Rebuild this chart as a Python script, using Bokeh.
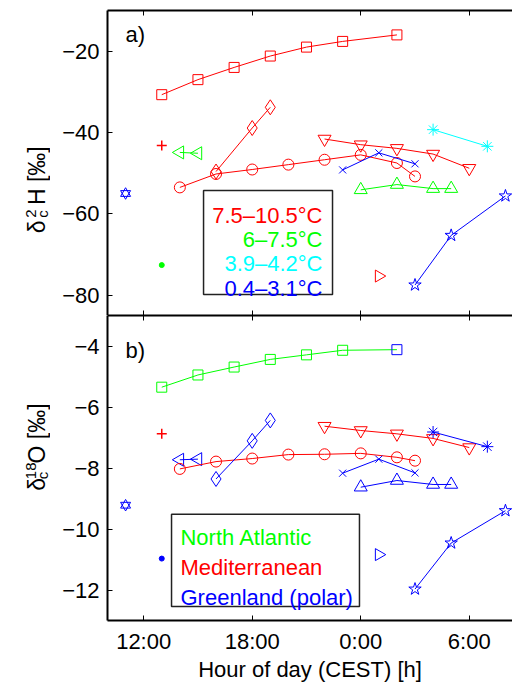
import numpy as np
from bokeh.plotting import figure
from bokeh.models import LinearAxis, FixedTicker, Label, Range1d
from bokeh.layouts import column, row
from bokeh.embed import file_html
from bokeh.resources import INLINE
from bokeh.core.properties import value

RED = "#ff0000"; GREEN = "#00ff00"; CYAN = "#00ffff"; BLUE = "#0000ff"
FONT = "Liberation Sans"

# ---- axes / ticks (hour of day; 24 = 0:00 next day) ----
x_ticks = [12, 18, 24, 30]
x_tick_labels = ["12:00", "18:00", "0:00", "6:00"]
dH_ticks = [-80, -60, -40, -20]
dH_tick_labels = ["\u221280", "\u221260", "\u221240", "\u221220"]
dO_ticks = [-12, -10, -8, -6, -4]
dO_tick_labels = ["\u221212", "\u221210", "\u22128", "\u22126", "\u22124"]

# ---- panel a) delta2H ----
sq_h = [13, 15, 17, 19, 21, 23, 26]
sq_dH = [-30.7, -27.0, -24.0, -21.2, -19.0, -17.6, -16.0]
dia_h = [16, 18, 19]
dia_dH = [-49.6, -38.9, -33.8]
cir_h = [14, 16, 18, 20, 22, 24, 26, 27]
cir_dH = [-53.5, -50.2, -49.1, -47.9, -46.7, -45.5, -47.5, -50.8]
itri_h = [22, 24, 26, 28, 30]
itri_dH = [-41.6, -43.0, -43.9, -45.3, -48.8]
plus_h = [13]; plus_dH = [-43.2]
rtri_h = [25]; rtri_dH = [-75.3]
ltri_h = [14, 15]; ltri_dH = [-44.9, -45.1]
dot_h = [13]; dot_dH = [-72.6]
utri_h = [24, 26, 28, 29]; utri_dH = [-54.1, -52.8, -53.8, -53.8]
ast_h = [28, 31]; ast_dH = [-39.3, -43.4]
xm_h = [23, 25, 27]; xm_dH = [-49.2, -45.0, -47.7]
star_h = [27, 29, 32]; star_dH = [-77.5, -65.3, -55.6]
hexg_h = [11]; hexg_dH = [-55.0]

# ---- panel b) delta18O ----
sq_dO = [-5.35, -4.95, -4.69, -4.44, -4.29, -4.14, -4.12]
sq_src = ["N", "N", "N", "N", "N", "N", "G"]
plus_dO = [-6.88]
ltri_dO = [-7.73, -7.71]
cir_dO = [-8.03, -7.79, -7.69, -7.56, -7.55, -7.52, -7.65, -7.76]
dia_dO = [-8.36, -7.11, -6.44]
itri_dO = [-6.63, -6.77, -6.88, -7.03, -7.33]
ast_dO = [-6.82, -7.30]
xm_dO = [-8.17, -7.71, -8.16]
utri_dO = [-8.63, -8.41, -8.54, -8.54]
star_dO = [-11.97, -10.46, -9.40]
hexg_dO = [-9.22]
dot_dO = [-10.97]
rtri_dO = [-10.84]

temp_labels = ["7.5\u201310.5\u00b0C", "6\u20137.5\u00b0C", "3.9\u20134.2\u00b0C", "0.4\u20133.1\u00b0C"]
temp_colors = [RED, GREEN, CYAN, BLUE]
src_labels = ["North Atlantic", "Mediterranean", "Greenland (polar)"]
src_colors = [GREEN, RED, BLUE]
src_color_map = {"N": GREEN, "M": RED, "G": BLUE}

X0, X1 = 10, 32.39
LAB_W = 50
TOTAL_W = 512


def tick_only(ax):
    ax.major_label_text_color = None
    ax.major_label_text_font_size = "1px"
    ax.major_label_standoff = 0


def setup(p, yticks, ylabels, show_xlabels):
    p.xgrid.visible = False
    p.ygrid.visible = False
    p.outline_line_color = None
    p.background_fill_color = "white"
    p.border_fill_color = "white"
    bottom = p.below[0]
    top = LinearAxis()
    p.add_layout(top, "above")
    for ax in [bottom, top]:
        ax.ticker = FixedTicker(ticks=x_ticks)
        ax.major_label_overrides = {t: l for t, l in zip(x_ticks, x_tick_labels)}
        ax.minor_tick_line_color = None
        ax.major_tick_in = 5
        ax.major_tick_out = 0
        ax.major_tick_line_width = 1
        ax.axis_line_width = 2
        ax.major_label_text_font = FONT
    tick_only(top)
    if show_xlabels:
        bottom.major_label_text_font_size = "22px"
        bottom.major_label_text_color = "black"
        bottom.major_label_standoff = 8
        bottom.axis_label = "Hour of day (CEST) [h]"
        bottom.axis_label_text_font = FONT
        bottom.axis_label_text_font_size = "22px"
        bottom.axis_label_text_font_style = "normal"
        bottom.axis_label_text_color = "black"
        bottom.axis_label_standoff = 0
    else:
        tick_only(bottom)
    ya = p.left[0]
    ya.ticker = FixedTicker(ticks=yticks)
    ya.major_label_overrides = {t: l for t, l in zip(yticks, ylabels)}
    ya.minor_tick_line_color = None
    ya.major_tick_in = 5
    ya.major_tick_out = 0
    ya.axis_line_width = 2
    ya.major_label_text_font = FONT
    ya.major_label_text_font_size = "22px"
    ya.major_label_text_color = "black"
    ya.major_label_standoff = 8


def draw(p, xs, ys, marker, color, size, line=True, angle=0.0, lw=1.0, fill=None, line_color=None):
    if line and len(xs) > 1:
        p.line(xs, ys, line_color=line_color or color, line_width=1)
    p.scatter(xs, ys, marker=marker, size=size, line_color=color, fill_color=fill,
              line_width=lw, angle=angle)


def hexagram(p, xs, ys, color):
    p.scatter(xs, ys, marker="triangle", size=10, line_color=color, fill_color=None, line_width=1)
    p.scatter(xs, ys, marker="inverted_triangle", size=10, line_color=color, fill_color=None, line_width=1)


def label_fig(height, pieces):
    # narrow companion figure holding the rotated y-axis title (coords = pixels)
    f = figure(width=LAB_W, height=height, x_range=Range1d(0, LAB_W), y_range=Range1d(0, height),
               x_axis_type=None, y_axis_type=None, output_backend="svg", toolbar_location=None,
               min_border=0, min_border_left=0, min_border_right=0, min_border_top=0,
               min_border_bottom=0)
    f.outline_line_color = None
    f.grid.visible = False
    for txt, x, y, fs in pieces:
        f.text(x=[x], y=[y], text=[txt], angle=np.pi / 2, text_font=value(FONT),
               text_font_size=fs, text_color="black", text_align="left",
               text_baseline="alphabetic")
    return f


# ================= panel a =================
H1 = 315
p1 = figure(width=TOTAL_W - LAB_W, height=H1, x_range=Range1d(X0, X1), y_range=Range1d(-85, -10),
            output_backend="svg", toolbar_location=None,
            min_border_left=57, min_border_right=0, min_border_top=10, min_border_bottom=0)
setup(p1, dH_ticks, dH_tick_labels, False)

draw(p1, sq_h, sq_dH, "square", RED, 10)
draw(p1, cir_h, cir_dH, "circle", RED, 11)
draw(p1, dia_h, dia_dH, "diamond", RED, 15)
draw(p1, itri_h, itri_dH, "inverted_triangle", RED, 13)
draw(p1, plus_h, plus_dH, "cross", RED, 10, lw=1.5)
draw(p1, rtri_h, rtri_dH, "triangle", RED, 12, angle=-np.pi / 2)
draw(p1, ltri_h, ltri_dH, "triangle", GREEN, 13, angle=np.pi / 2)
draw(p1, dot_h, dot_dH, "circle", GREEN, 5, fill=GREEN)
draw(p1, utri_h, utri_dH, "triangle", GREEN, 13)
draw(p1, ast_h, ast_dH, "asterisk", CYAN, 12)
draw(p1, xm_h, xm_dH, "x", BLUE, 10)
draw(p1, star_h, star_dH, "star", BLUE, 13)
hexagram(p1, hexg_h, hexg_dH, BLUE)

p1.add_layout(Label(x=11.0, y=-15.9, text="a)", text_font=FONT, text_font_size="22px",
                    text_align="left", text_baseline="middle", text_color="black"))
p1.quad(left=[15.31], right=[22.44], top=[-54.26], bottom=[-79.83],
        fill_color="white", line_color="#222222", line_width=1.5)
p1.text(x=[21.885] * 4, y=[-60.41, -66.19, -72.21, -78.36], text=temp_labels,
        text_color=temp_colors, text_font=value(FONT), text_font_size="22px",
        text_align="right", text_baseline="alphabetic")

l1 = label_fig(H1, [("\u03b4", 36, 85, "23px"),
                    ("2", 30, 101, "15px"),
                    ("c", 42, 101, "15px"),
                    ("H [\u2030]", 36, 114, "23px")])

# ================= panel b =================
H2 = 684 - H1
p2 = figure(width=TOTAL_W - LAB_W, height=H2, x_range=Range1d(X0, X1), y_range=Range1d(-13, -3),
            output_backend="svg", toolbar_location=None,
            min_border_left=57, min_border_right=0, min_border_top=0, min_border_bottom=61)
setup(p2, dO_ticks, dO_tick_labels, True)

draw(p2, sq_h, sq_dO, "square", [src_color_map[s] for s in sq_src], 10, line_color=GREEN)
draw(p2, plus_h, plus_dO, "cross", RED, 10, lw=1.5)
draw(p2, ltri_h, ltri_dO, "triangle", BLUE, 13, angle=np.pi / 2)
draw(p2, cir_h, cir_dO, "circle", RED, 11)
draw(p2, dia_h, dia_dO, "diamond", BLUE, 15)
draw(p2, itri_h, itri_dO, "inverted_triangle", RED, 13)
draw(p2, ast_h, ast_dO, "asterisk", BLUE, 12)
draw(p2, xm_h, xm_dO, "x", BLUE, 10)
draw(p2, utri_h, utri_dO, "triangle", BLUE, 13)
draw(p2, star_h, star_dO, "star", BLUE, 13)
hexagram(p2, hexg_h, hexg_dO, BLUE)
draw(p2, dot_h, dot_dO, "circle", BLUE, 5, fill=BLUE)
draw(p2, rtri_h, rtri_dO, "triangle", BLUE, 12, angle=-np.pi / 2)

p2.add_layout(Label(x=11.0, y=-4.14, text="b)", text_font=FONT, text_font_size="22px",
                    text_align="left", text_baseline="middle", text_color="black"))
p2.quad(left=[13.54], right=[23.93], top=[-9.516], bottom=[-12.545],
        fill_color="white", line_color="#222222", line_width=1.5)
p2.text(x=[14.035] * 3, y=[-10.273, -11.247, -12.253], text=src_labels,
        text_color=src_colors, text_font=value(FONT), text_font_size="22px",
        text_align="left", text_baseline="alphabetic")

l2 = label_fig(H2, [("\u03b4", 36, 157, "23px"),
                    ("18", 30, 171, "15px"),
                    ("c", 42, 171, "15px"),
                    ("O [\u2030]", 36, 190, "23px")])

layout = column(row(l1, p1, spacing=0), row(l2, p2, spacing=0), spacing=0)
open("out.html", "w").write(file_html(layout, INLINE))
